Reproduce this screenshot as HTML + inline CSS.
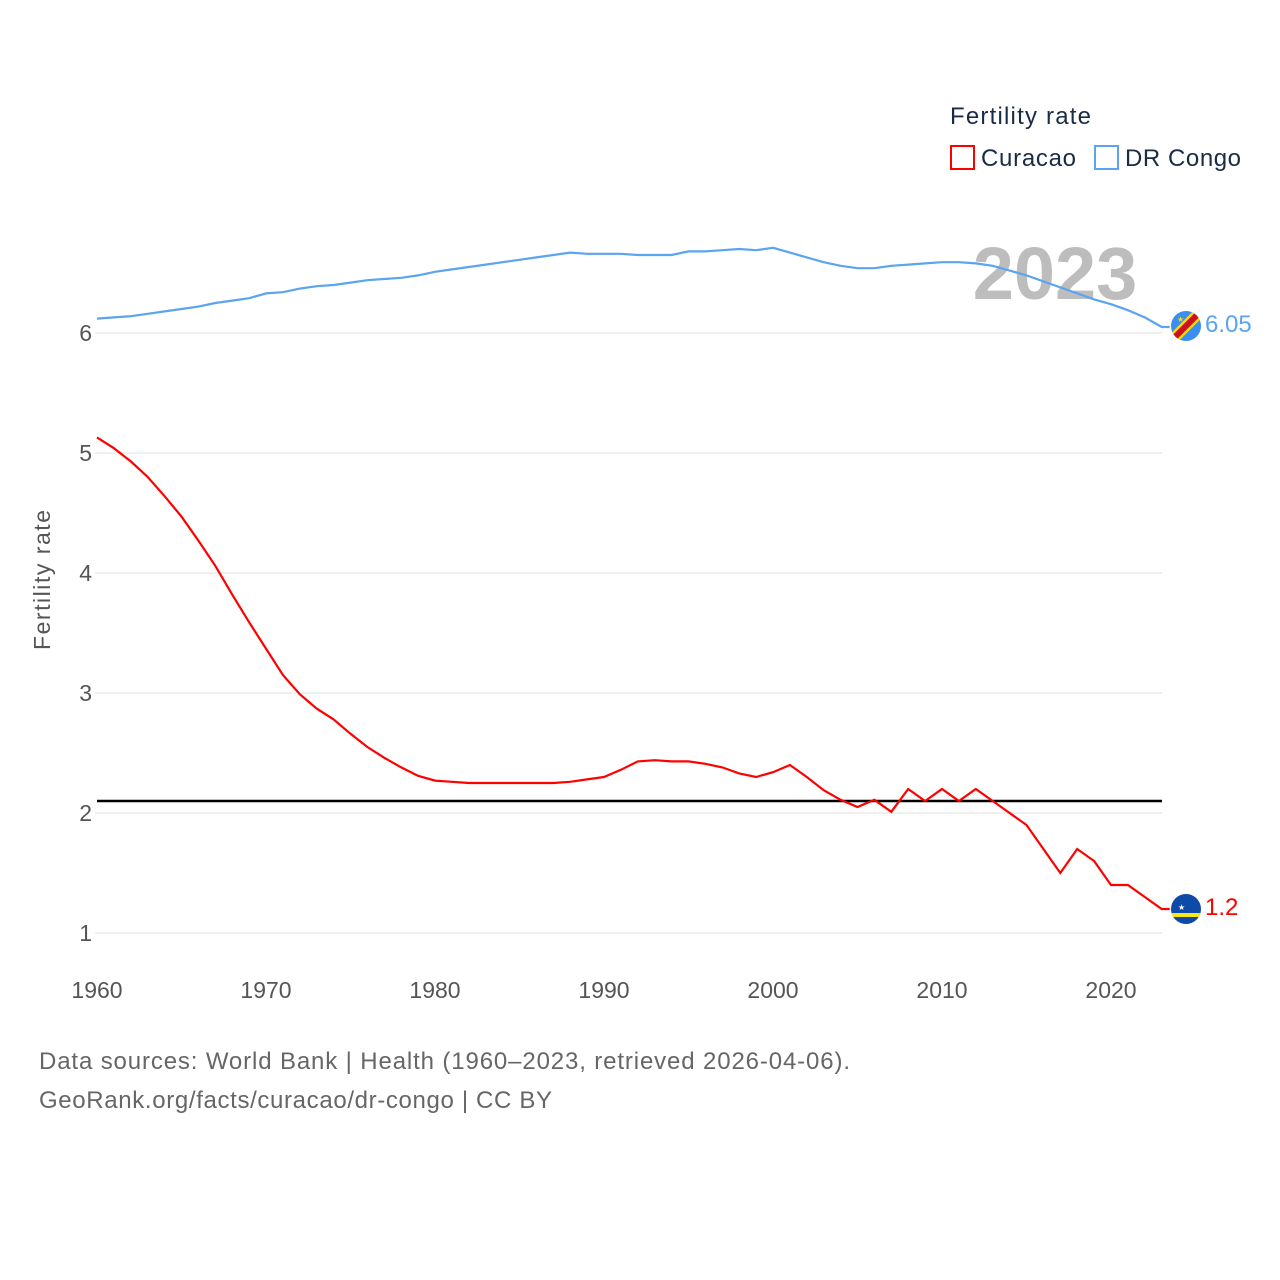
<!DOCTYPE html>
<html><head><meta charset="utf-8"><style>
body{margin:0;background:#fff;}
svg{display:block;font-family:"Liberation Sans",sans-serif;}
</style></head><body>
<svg id="chart" width="1280" height="1280" viewBox="0 0 1280 1280">
<g id="grid"></g>
<g id="yticks"></g>
<g id="xticks"></g>
<text x="1055" y="299" font-size="74" font-weight="bold" fill="#bdbdbd" text-anchor="middle">2023</text>
<text transform="translate(50,580) rotate(-90)" font-size="23" fill="#555" text-anchor="middle" textLength="140">Fertility rate</text>
<line id="refline" stroke="#000" stroke-width="2.5"></line>
<g id="series"></g>
<g>
<text x="950" y="124" font-size="24" fill="#1a2b45" textLength="141">Fertility rate</text>
<rect x="951" y="146" width="23" height="23" fill="none" stroke="#f00" stroke-width="2"/>
<text x="981" y="166" font-size="24" fill="#1a2b45" textLength="95">Curacao</text>
<rect x="1095" y="146" width="23" height="23" fill="none" stroke="#5ba4ef" stroke-width="2"/>
<text x="1125" y="166" font-size="24" fill="#1a2b45" textLength="116">DR Congo</text>
</g>
<g>
<clipPath id="c1"><circle cx="1186" cy="326" r="15"/></clipPath>
<g clip-path="url(#c1)"><rect x="1170" y="310" width="32" height="32" fill="#3a8ef0"/>
<line x1="1168" y1="344" x2="1204" y2="308" stroke="#f7d618" stroke-width="11"/>
<line x1="1168" y1="344" x2="1204" y2="308" stroke="#ce1021" stroke-width="6"/></g>
<text x="1177" y="322" font-size="8" fill="#f7d618">★</text>
</g>
<g>
<clipPath id="c2"><circle cx="1186" cy="909" r="15"/></clipPath>
<g clip-path="url(#c2)"><rect x="1170" y="893" width="32" height="32" fill="#0e4aa8"/>
<rect x="1170" y="913" width="32" height="4" fill="#f9e814"/></g>
<text x="1178" y="910" font-size="8" fill="#fff">★</text>
</g>
<text x="1205" y="332" font-size="24" fill="#5ba4ef">6.05</text>
<text x="1205" y="915" font-size="24" fill="#f00">1.2</text>
<text x="39" y="1069" font-size="24" fill="#666" textLength="811">Data sources: World Bank | Health (1960–2023, retrieved 2026-04-06).</text>
<text x="39" y="1108" font-size="24" fill="#666" textLength="513">GeoRank.org/facts/curacao/dr-congo | CC BY</text>
</svg>
<script>
const years = [];for(let y=1960;y<=2023;y++)years.push(y);
const yTicks = [1,2,3,4,5,6];
const xTicks = [1960,1970,1980,1990,2000,2010,2020];
const replacementRate = 2.1;
const drCongo = [6.12,6.13,6.14,6.16,6.18,6.20,6.22,6.25,6.27,6.29,6.33,6.34,6.37,6.39,6.40,6.42,6.44,6.45,6.46,6.48,6.51,6.53,6.55,6.57,6.59,6.61,6.63,6.65,6.67,6.66,6.66,6.66,6.65,6.65,6.65,6.68,6.68,6.69,6.70,6.69,6.71,6.67,6.63,6.59,6.56,6.54,6.54,6.56,6.57,6.58,6.59,6.59,6.58,6.56,6.52,6.48,6.43,6.38,6.33,6.28,6.24,6.19,6.13,6.05];
const curacao = [5.13,5.04,4.93,4.80,4.64,4.47,4.27,4.06,3.82,3.59,3.37,3.15,2.99,2.87,2.78,2.66,2.55,2.46,2.38,2.31,2.27,2.26,2.25,2.25,2.25,2.25,2.25,2.25,2.26,2.28,2.30,2.36,2.43,2.44,2.43,2.43,2.41,2.38,2.33,2.30,2.34,2.40,2.30,2.19,2.11,2.05,2.11,2.01,2.2,2.1,2.2,2.1,2.2,2.1,2.0,1.9,1.7,1.5,1.7,1.6,1.4,1.4,1.3,1.2];
const X = y => 97 + (y-1960)*(1014/60);
const Y = v => 333 + (6-v)*120;
const NS='http://www.w3.org/2000/svg';
const grid=document.getElementById('grid'),yt=document.getElementById('yticks'),xt=document.getElementById('xticks'),ser=document.getElementById('series');
yTicks.forEach(t=>{
 const l=document.createElementNS(NS,'line');
 l.setAttribute('x1',95);l.setAttribute('x2',1162);l.setAttribute('y1',Y(t));l.setAttribute('y2',Y(t));
 l.setAttribute('stroke','#ececec');l.setAttribute('stroke-width','1.5');
 
 
 grid.appendChild(l);
 const s=document.createElementNS(NS,'text');
 s.setAttribute('x',92);s.setAttribute('y',Y(t)+8);s.setAttribute('text-anchor','end');
 s.setAttribute('font-size','23');s.setAttribute('fill','#555');s.textContent=t;
 
 
 yt.appendChild(s);
});
xTicks.forEach(t=>{
 const s=document.createElementNS(NS,'text');
 s.setAttribute('x',X(t));s.setAttribute('y',998);s.setAttribute('text-anchor','middle');
 s.setAttribute('font-size','23');s.setAttribute('fill','#555');s.textContent=t;
 
 
 xt.appendChild(s);
});
const rl=document.getElementById('refline');
rl.setAttribute('x1',97);rl.setAttribute('x2',1162);rl.setAttribute('y1',Y(replacementRate));rl.setAttribute('y2',Y(replacementRate));
function line(vals,color,name){
 const p=document.createElementNS(NS,'polyline');
 p.setAttribute('points',vals.map((v,i)=>X(years[i])+','+Y(v)).join(' ')+' '+(X(2023)+8)+','+Y(vals[vals.length-1]));
 p.setAttribute('fill','none');p.setAttribute('stroke',color);p.setAttribute('stroke-width','2.2');
 
 
 ser.appendChild(p);
}
line(drCongo,'#5ba4ef','dr-congo-line');
line(curacao,'#f00','curacao-line');
</script>
</body></html>
